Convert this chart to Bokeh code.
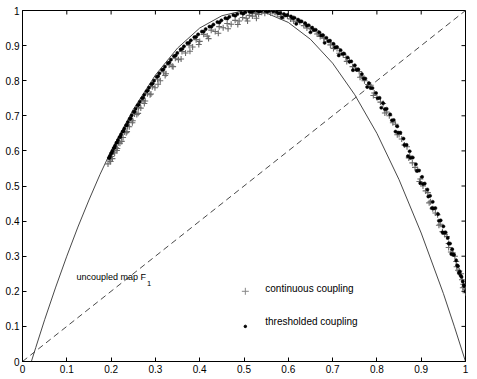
import math
from bokeh.plotting import figure
from bokeh.models import FixedTicker, Range1d
from bokeh.core.properties import value
from bokeh.embed import file_html
from bokeh.resources import INLINE

# ---- data ----
tick_vals = [0, 0.1, 0.2, 0.3, 0.4, 0.5, 0.6, 0.7, 0.8, 0.9, 1]

# uncoupled map F1 (solid curve)
map_x = [0.02, 0.03, 0.05, 0.075, 0.10, 0.125, 0.15, 0.175, 0.20, 0.25, 0.30, 0.35,
         0.40, 0.45, 0.50, 0.55, 0.60, 0.65, 0.70, 0.75, 0.80, 0.85, 0.90, 0.95, 0.975, 1.0]
map_y = [0.0, 0.040, 0.119, 0.212, 0.300, 0.383, 0.460, 0.533, 0.600, 0.718, 0.816, 0.893,
         0.950, 0.985, 1.000, 0.993, 0.966, 0.918, 0.850, 0.760, 0.650, 0.518, 0.366, 0.194, 0.099, 0.0]

# identity (dashed)
diag_x = [0.0, 1.0]
diag_y = [0.0, 1.0]

# continuous coupling (+)
cont_x = [0.193, 0.197, 0.201, 0.206, 0.211, 0.217, 0.223, 0.230, 0.237, 0.245, 0.253, 0.262,
          0.272, 0.282, 0.293, 0.305, 0.318, 0.331, 0.345, 0.360, 0.376, 0.392, 0.409, 0.426,
          0.444, 0.462, 0.480, 0.497, 0.512, 0.526, 0.540, 0.553, 0.565,
          0.570, 0.584, 0.598, 0.612, 0.626, 0.640, 0.654, 0.668, 0.682, 0.696, 0.710, 0.724,
          0.738, 0.752, 0.766, 0.780, 0.794, 0.808, 0.822, 0.836, 0.850, 0.862, 0.874, 0.886,
          0.898, 0.910, 0.921, 0.932, 0.943, 0.953, 0.962, 0.971, 0.979, 0.986, 0.992, 0.997, 1.000,
          0.199, 0.208, 0.214, 0.220, 0.227, 0.234, 0.241, 0.249, 0.258, 0.267, 0.277, 0.288,
          0.299, 0.311, 0.324, 0.338, 0.352, 0.368, 0.384, 0.400, 0.417, 0.435, 0.453, 0.471,
          0.489, 0.505, 0.519, 0.533, 0.547, 0.560,
          0.575, 0.590, 0.605, 0.620, 0.635, 0.650, 0.665, 0.680, 0.695, 0.705, 0.715, 0.730,
          0.745, 0.760, 0.772, 0.786, 0.800, 0.814, 0.828, 0.842, 0.856, 0.868, 0.880, 0.892,
          0.904, 0.915, 0.926, 0.937, 0.948, 0.958, 0.967, 0.976, 0.983, 0.990, 0.995, 1.000,
          0.582, 0.612, 0.642, 0.672, 0.702, 0.732, 0.762, 0.792, 0.818, 0.846, 0.872, 0.896,
          0.918, 0.940, 0.962, 0.980, 0.994,
          0.203, 0.213, 0.224, 0.236, 0.248, 0.261, 0.275, 0.290, 0.306, 0.322, 0.340, 0.358,
          0.378, 0.398, 0.420, 0.442, 0.464, 0.486, 0.508, 0.528]
cont_y = [0.563, 0.574, 0.584, 0.597, 0.609, 0.623, 0.638, 0.654, 0.670, 0.688, 0.705, 0.724,
          0.744, 0.763, 0.783, 0.804, 0.825, 0.845, 0.864, 0.883, 0.901, 0.917, 0.932, 0.944,
          0.954, 0.963, 0.972, 0.980, 0.986, 0.991, 0.995, 0.997, 0.997,
          0.994, 0.990, 0.984, 0.977, 0.968, 0.958, 0.947, 0.936, 0.923, 0.908, 0.892, 0.875,
          0.857, 0.836, 0.813, 0.789, 0.765, 0.739, 0.711, 0.680, 0.647, 0.617, 0.585, 0.553,
          0.520, 0.486, 0.455, 0.423, 0.391, 0.362, 0.336, 0.310, 0.285, 0.258, 0.233, 0.212, 0.196,
          0.570, 0.594, 0.607, 0.622, 0.638, 0.652, 0.669, 0.686, 0.704, 0.722, 0.742, 0.760,
          0.780, 0.800, 0.820, 0.841, 0.860, 0.879, 0.896, 0.912, 0.927, 0.940, 0.951, 0.961,
          0.970, 0.978, 0.984, 0.989, 0.992, 0.993,
          0.990, 0.983, 0.976, 0.968, 0.957, 0.948, 0.933, 0.921, 0.902, 0.896, 0.878, 0.866,
          0.840, 0.826, 0.800, 0.787, 0.752, 0.735, 0.700, 0.676, 0.634, 0.612, 0.566, 0.546,
          0.500, 0.481, 0.435, 0.418, 0.370, 0.356, 0.312, 0.300, 0.260, 0.250, 0.220, 0.206,
          0.982, 0.970, 0.950, 0.926, 0.892, 0.855, 0.810, 0.758, 0.708, 0.646, 0.580, 0.513,
          0.452, 0.388, 0.325, 0.270, 0.210,
          0.578, 0.601, 0.627, 0.655, 0.680, 0.707, 0.735, 0.762, 0.790, 0.815, 0.840, 0.862,
          0.884, 0.903, 0.920, 0.935, 0.948, 0.960, 0.970, 0.978]

# thresholded coupling (dots)
thr_x = [0.195, 0.200, 0.206, 0.212, 0.219, 0.226, 0.234, 0.242, 0.251, 0.260, 0.270, 0.280,
         0.291, 0.303, 0.315, 0.328, 0.342, 0.357, 0.372, 0.388, 0.405, 0.422, 0.440, 0.458,
         0.476, 0.494, 0.512, 0.530, 0.548,
         0.566, 0.582, 0.598, 0.614, 0.630, 0.646, 0.662, 0.678, 0.694, 0.710, 0.726, 0.742,
         0.758, 0.774, 0.790, 0.806, 0.822, 0.838, 0.853, 0.867, 0.881, 0.895, 0.908, 0.920,
         0.932, 0.944, 0.955, 0.965, 0.974, 0.983, 0.991, 0.997, 1.000,
         0.1975, 0.203, 0.209, 0.2155, 0.2225, 0.230, 0.238, 0.2465, 0.2555, 0.265, 0.275,
         0.2855, 0.297, 0.309, 0.3215, 0.335, 0.3495, 0.3645, 0.380, 0.3965, 0.4135, 0.431,
         0.449, 0.467, 0.485, 0.503, 0.521, 0.539, 0.557,
         0.574, 0.590, 0.606, 0.622, 0.638, 0.654, 0.670, 0.686, 0.702, 0.718, 0.734, 0.750,
         0.766, 0.782, 0.798, 0.814, 0.830, 0.846, 0.860, 0.874, 0.888, 0.902, 0.914, 0.926,
         0.938, 0.950, 0.960, 0.970, 0.979, 0.987, 0.994,
         0.578, 0.594, 0.610, 0.626, 0.642, 0.658, 0.674, 0.690, 0.706, 0.722, 0.738, 0.754,
         0.770, 0.786, 0.802, 0.818, 0.834, 0.848, 0.862, 0.876, 0.890, 0.904, 0.916, 0.928,
         0.940, 0.952, 0.962, 0.972, 0.981, 0.989, 0.996,
         0.586, 0.618, 0.650, 0.682, 0.714, 0.746, 0.778, 0.810, 0.842, 0.870, 0.898, 0.924,
         0.948, 0.968, 0.985,
         0.1965, 0.2015, 0.2075, 0.2135, 0.221, 0.228, 0.236, 0.244, 0.253, 0.2625, 0.2725,
         0.283, 0.294, 0.306, 0.318, 0.3315, 0.346, 0.361, 0.376, 0.392, 0.409, 0.4265,
         0.4445, 0.4625, 0.4805, 0.4985, 0.5165, 0.5345, 0.5525]
thr_y = [0.580, 0.593, 0.608, 0.623, 0.639, 0.655, 0.673, 0.691, 0.711, 0.730, 0.750, 0.770,
         0.790, 0.811, 0.831, 0.850, 0.870, 0.889, 0.907, 0.924, 0.940, 0.954, 0.967, 0.978,
         0.987, 0.993, 0.997, 0.999, 0.999,
         0.998, 0.993, 0.987, 0.979, 0.969, 0.958, 0.945, 0.930, 0.914, 0.896, 0.877, 0.855,
         0.832, 0.806, 0.779, 0.751, 0.720, 0.688, 0.652, 0.617, 0.581, 0.544, 0.507, 0.472,
         0.437, 0.402, 0.368, 0.336, 0.304, 0.272, 0.241, 0.215, 0.200,
         0.586, 0.600, 0.615, 0.631, 0.647, 0.664, 0.682, 0.701, 0.720, 0.740, 0.760,
         0.780, 0.800, 0.821, 0.840, 0.860, 0.879, 0.898, 0.915, 0.932, 0.947, 0.960,
         0.972, 0.982, 0.990, 0.995, 0.998, 0.999, 0.999,
         0.996, 0.990, 0.983, 0.974, 0.964, 0.951, 0.938, 0.922, 0.905, 0.887, 0.866, 0.844,
         0.819, 0.793, 0.765, 0.736, 0.704, 0.670, 0.635, 0.599, 0.562, 0.526, 0.490, 0.455,
         0.420, 0.385, 0.352, 0.320, 0.288, 0.256, 0.228,
         0.992, 0.986, 0.978, 0.969, 0.957, 0.944, 0.929, 0.913, 0.895, 0.876, 0.854, 0.831,
         0.806, 0.779, 0.750, 0.719, 0.687, 0.652, 0.617, 0.580, 0.543, 0.506, 0.470, 0.436,
         0.401, 0.367, 0.336, 0.305, 0.274, 0.245, 0.218,
         0.980, 0.962, 0.938, 0.908, 0.872, 0.830, 0.782, 0.723, 0.655, 0.585, 0.508, 0.437,
         0.368, 0.306, 0.252,
         0.581, 0.594, 0.609, 0.624, 0.640, 0.657, 0.674, 0.693, 0.712, 0.732, 0.752,
         0.772, 0.792, 0.813, 0.832, 0.852, 0.872, 0.891, 0.908, 0.925, 0.940, 0.954,
         0.966, 0.977, 0.985, 0.991, 0.995, 0.997, 0.997]

FONT = "Liberation Sans"

p = figure(width=477, height=379, x_range=Range1d(0, 1), y_range=Range1d(0, 1),
           output_backend="svg", toolbar_location=None,
           min_border_left=22, min_border_right=12, min_border_top=10, min_border_bottom=18)
p.grid.visible = False
p.outline_line_color = "black"
p.outline_line_width = 1
p.background_fill_color = "white"

ticker = FixedTicker(ticks=tick_vals)
overrides = {0: "0", 1: "1"}

for ax in (p.xaxis[0], p.yaxis[0]):
    ax.ticker = ticker
    ax.major_label_overrides = overrides
    ax.major_tick_in = 4
    ax.major_tick_out = 0
    ax.minor_tick_in = 0
    ax.minor_tick_out = 0
    ax.major_label_text_font = FONT
    ax.major_label_text_font_size = "10px"
    ax.major_label_text_color = "black"
    ax.axis_line_color = "black"
    ax.major_tick_line_color = "black"
    ax.major_label_standoff = 3

# inward ticks on the top and right edges of the box
n = len(tick_vals)
p.ray(x=tick_vals, y=[1] * n, length=4, length_units="screen", angle=-math.pi / 2,
      line_color="black", line_width=1)
p.ray(x=[1] * n, y=tick_vals, length=4, length_units="screen", angle=math.pi,
      line_color="black", line_width=1)

# curves
p.line(diag_x, diag_y, line_color="#333333", line_width=0.9, line_dash="6 4")
p.line(map_x, map_y, line_color="#333333", line_width=0.9)

# data
p.scatter(cont_x, cont_y, marker="cross", size=6, line_color="#6a6a6a", line_width=1.1)
p.scatter(thr_x, thr_y, marker="circle", size=3.2, fill_color="black", line_color="black",
          line_width=0.5)

# labels / legend
p.text(x=[0.122], y=[0.242], text=["uncoupled map F"], text_font=value(FONT),
       text_font_size="9px", text_baseline="middle", text_align="left", text_color="black")
p.text(x=[0.281], y=[0.222], text=["1"], text_font=value(FONT),
       text_font_size="7.5px", text_baseline="middle", text_align="left", text_color="black")

p.scatter([0.503], [0.200], marker="cross", size=7, line_color="#888888", line_width=1)
p.scatter([0.503], [0.100], marker="circle", size=2.5, fill_color="black", line_color="black")
p.text(x=[0.548, 0.548], y=[0.208, 0.115], text=["continuous coupling", "thresholded coupling"],
       text_font=value(FONT), text_font_size="10px", text_baseline="middle",
       text_align="left", text_color="black")

open("out.html", "w").write(file_html(p, INLINE))
